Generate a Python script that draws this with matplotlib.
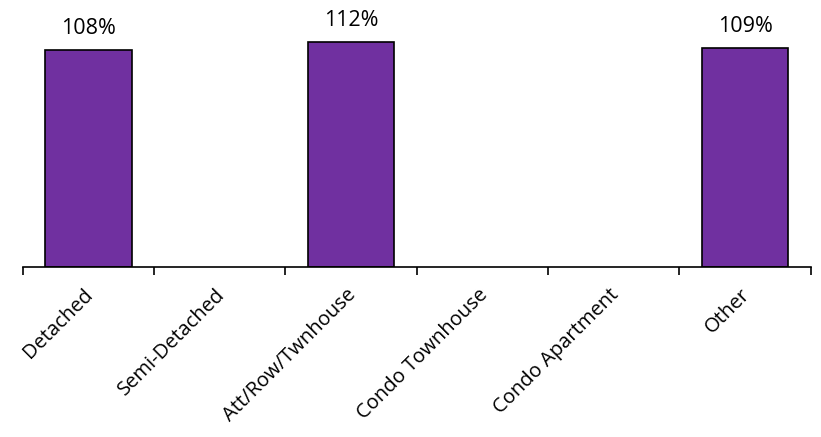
import matplotlib.pyplot as plt
import matplotlib.transforms as mtransforms
import numpy as np

categories = ['Detached', 'Semi-Detached', 'Att/Row/Twnhouse',
              'Condo Townhouse', 'Condo Apartment', 'Other']
values = [108, None, 112, None, None, 109]

plt.rcParams['font.family'] = ['Open Sans', 'DejaVu Sans']

fig = plt.figure(figsize=(8.21, 4.37), dpi=100)
ax = fig.add_axes([0.0277, 0.389, 0.9598, 0.5515])

x = np.arange(len(categories))
for xi, v in zip(x, values):
    if v is None:
        continue
    ax.bar(xi, v, width=0.66, color='#7030A0', edgecolor='black', linewidth=1.2)
    ax.annotate('{}%'.format(v), xy=(xi, v), xytext=(0, 8),
                textcoords='offset points', ha='center', va='bottom', fontsize=15.5)

ax.set_xlim(-0.5, len(categories) - 0.5)
ax.set_ylim(0, 120)
ax.set_yticks([])
for side in ['top', 'right', 'left']:
    ax.spines[side].set_visible(False)
ax.spines['bottom'].set_linewidth(1.2)

# ticks between categories, labels at centres
ax.set_xticks(np.arange(-0.5, len(categories)), minor=False)
ax.set_xticklabels([])
ax.tick_params(axis='x', length=6, width=1.2, direction='out')
ax.set_xticks(x, minor=True)
ax.set_xticklabels(categories, minor=True, rotation=45, ha='right',
                   rotation_mode='anchor', fontsize=14.5)
ax.tick_params(axis='x', which='minor', length=0, pad=13)

# nudge labels a little to the left
shift = mtransforms.ScaledTranslation(-5 / 100, 0, fig.dpi_scale_trans)
for lbl in ax.get_xticklabels(minor=True):
    lbl.set_transform(lbl.get_transform() + shift)

fig.savefig('out.png', dpi=100)
